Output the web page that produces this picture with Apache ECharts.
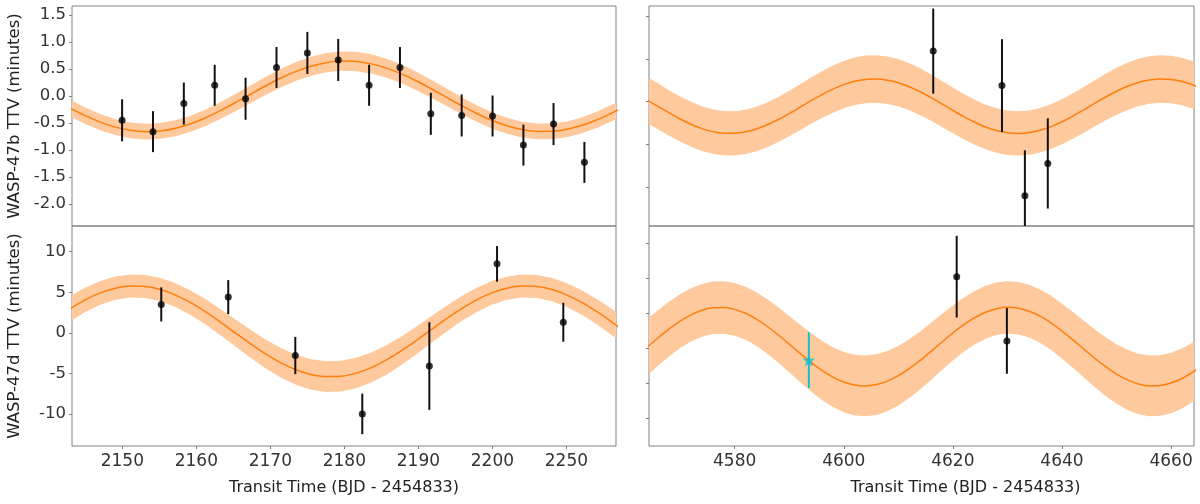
<!DOCTYPE html>
<html>
<head>
<meta charset="utf-8">
<script src="https://cdn.jsdelivr.net/npm/echarts@6/dist/echarts.min.js"></script>
<style>
  html, body { margin: 0; padding: 0; background: #fff; }
  #chart { width: 1200px; height: 504px; }
</style>
</head>
<body>
<div id="chart"></div>
<script>
// WASP-47b, first window (measured TTVs)
const bX = [2149.97, 2154.14, 2158.31, 2162.48, 2166.65, 2170.83, 2175.0, 2179.17, 2183.34, 2187.51, 2191.68, 2195.85, 2200.02, 2204.19, 2208.26, 2212.43];
const bY = [-0.45, -0.66, -0.14, 0.20, -0.05, 0.53, 0.80, 0.67, 0.20, 0.53, -0.33, -0.36, -0.37, -0.91, -0.52, -1.23];
const bErr = [0.39, 0.38, 0.39, 0.38, 0.39, 0.38, 0.39, 0.39, 0.38, 0.38, 0.39, 0.39, 0.38, 0.38, 0.39, 0.38];

// WASP-47d, first window
const dX = [2155.26, 2164.31, 2173.37, 2182.42, 2191.48, 2200.63, 2209.58];
const dY = [3.5, 4.4, -2.8, -10.0, -4.1, 8.5, 1.3];
const dErr = [2.1, 2.1, 2.3, 2.5, 5.4, 2.2, 2.4];

// later window
const bLateX = [4616.4, 4629.0, 4633.2, 4637.4];
const bLateY = [1.19, 0.38, -2.21, -1.45];
const bLateErr = [1.0, 1.09, 1.07, 1.06];

const dLateX = [4620.7, 4629.9];
const dLateY = [1.05, -0.79];
const dLateErr = [1.17, 0.94];

const starX = [4593.6];
const starY = [-1.34];
const starErr = [0.80];

// model curves (median) and half width of the shaded band
const modelLeftX = [2142.95, 2144.99, 2147.02, 2149.06, 2151.09, 2153.12, 2155.16, 2157.19, 2159.23, 2161.26, 2163.30, 2165.33, 2167.37, 2169.40, 2171.43, 2173.47, 2175.50, 2177.54, 2179.57, 2181.61, 2183.64, 2185.68, 2187.71, 2189.75, 2191.78, 2193.81, 2195.85, 2197.88, 2199.92, 2201.95, 2203.99, 2206.02, 2208.06, 2210.09, 2212.13, 2214.16, 2216.20, 2217.21];
const modelB = [-0.224, -0.364, -0.483, -0.576, -0.635, -0.660, -0.647, -0.597, -0.514, -0.402, -0.267, -0.118, 0.038, 0.191, 0.334, 0.457, 0.553, 0.619, 0.648, 0.641, 0.597, 0.518, 0.411, 0.279, 0.131, -0.024, -0.179, -0.323, -0.450, -0.551, -0.621, -0.656, -0.654, -0.616, -0.542, -0.439, -0.311, -0.239];
const modelBErr = [0.157, 0.153, 0.150, 0.147, 0.146, 0.145, 0.145, 0.147, 0.149, 0.152, 0.155, 0.159, 0.164, 0.168, 0.172, 0.175, 0.177, 0.179, 0.180, 0.180, 0.179, 0.176, 0.174, 0.170, 0.166, 0.162, 0.158, 0.154, 0.151, 0.148, 0.146, 0.145, 0.145, 0.146, 0.148, 0.151, 0.154, 0.156];
const modelD = [2.99, 4.07, 4.92, 5.50, 5.76, 5.71, 5.33, 4.65, 3.71, 2.57, 1.29, -0.06, -1.39, -2.63, -3.71, -4.56, -5.14, -5.40, -5.35, -4.97, -4.29, -3.35, -2.21, -0.93, 0.42, 1.75, 2.99, 4.07, 4.92, 5.49, 5.76, 5.71, 5.33, 4.65, 3.71, 2.57, 1.29, 0.62];
const modelDErr = [1.54, 1.49, 1.46, 1.43, 1.42, 1.42, 1.44, 1.47, 1.51, 1.56, 1.61, 1.67, 1.73, 1.78, 1.83, 1.86, 1.89, 1.90, 1.90, 1.88, 1.85, 1.81, 1.76, 1.71, 1.65, 1.59, 1.54, 1.49, 1.46, 1.43, 1.42, 1.42, 1.44, 1.47, 1.51, 1.56, 1.61, 1.64];

const modelRightX = [4564, 4566, 4568, 4570, 4572, 4574, 4576, 4578, 4580, 4582, 4584, 4586, 4588, 4590, 4592, 4594, 4596, 4598, 4600, 4602, 4604, 4606, 4608, 4610, 4612, 4614, 4616, 4618, 4620, 4622, 4624, 4626, 4628, 4630, 4632, 4634, 4636, 4638, 4640, 4642, 4644, 4646, 4648, 4650, 4652, 4654, 4656, 4658, 4660, 4662, 4664, 4665];
const modelBLate = [0.038, -0.113, -0.263, -0.405, -0.530, -0.631, -0.702, -0.739, -0.741, -0.707, -0.639, -0.541, -0.418, -0.278, -0.128, 0.024, 0.168, 0.297, 0.403, 0.480, 0.525, 0.534, 0.507, 0.445, 0.353, 0.235, 0.097, -0.052, -0.204, -0.350, -0.482, -0.594, -0.677, -0.729, -0.745, -0.725, -0.670, -0.584, -0.470, -0.336, -0.189, -0.037, 0.111, 0.247, 0.363, 0.453, 0.511, 0.535, 0.522, 0.474, 0.394, 0.342];
const modelBLateErr = [0.544, 0.540, 0.535, 0.531, 0.527, 0.524, 0.521, 0.520, 0.520, 0.521, 0.523, 0.526, 0.530, 0.535, 0.539, 0.544, 0.549, 0.553, 0.556, 0.558, 0.560, 0.560, 0.559, 0.557, 0.554, 0.551, 0.546, 0.542, 0.537, 0.532, 0.528, 0.525, 0.522, 0.521, 0.520, 0.521, 0.522, 0.525, 0.529, 0.533, 0.537, 0.542, 0.547, 0.551, 0.555, 0.557, 0.559, 0.560, 0.560, 0.558, 0.556, 0.554];
const modelDLate = [-0.963, -0.699, -0.448, -0.226, -0.045, 0.085, 0.157, 0.166, 0.113, 0.000, -0.167, -0.378, -0.621, -0.883, -1.149, -1.404, -1.634, -1.826, -1.969, -2.055, -2.080, -2.041, -1.942, -1.787, -1.585, -1.349, -1.090, -0.823, -0.564, -0.327, -0.125, 0.030, 0.130, 0.170, 0.146, 0.060, -0.082, -0.274, -0.510, -0.762, -1.024, -1.286, -1.529, -1.740, -1.907, -2.022, -2.076, -2.067, -1.996, -1.867, -1.685, -1.575];
const modelDLateErr = [0.810, 0.796, 0.783, 0.771, 0.761, 0.755, 0.751, 0.750, 0.753, 0.759, 0.768, 0.779, 0.792, 0.806, 0.820, 0.834, 0.846, 0.856, 0.864, 0.869, 0.870, 0.868, 0.863, 0.854, 0.844, 0.831, 0.817, 0.803, 0.789, 0.777, 0.766, 0.757, 0.752, 0.750, 0.751, 0.756, 0.763, 0.774, 0.786, 0.800, 0.814, 0.828, 0.841, 0.852, 0.861, 0.867, 0.870, 0.869, 0.866, 0.859, 0.849, 0.843];

// tick positions and labels
const ticksLeftX = [2150, 2160, 2170, 2180, 2190, 2200, 2210];
const tickLabelsLeftX = ["2150", "2160", "2170", "2180", "2190", "2200", "2250"];
const ticksB = [-2.0, -1.5, -1.0, -0.5, 0.0, 0.5, 1.0, 1.5];
const ticksD = [-10, -5, 0, 5, 10];
const ticksRightX = [4580, 4600, 4620, 4640, 4660];
const ticksBLate = [-2, -1, 0, 1, 2];
const ticksDLate = [-3, -2, -1, 0, 1, 2];

const FONT = "DejaVu Sans";
const ORANGE = "#ff7f0e";
const BAND = "#fec99c";
const CYAN = "#17becf";
const FRAME = "#808080";

const chart = echarts.init(document.getElementById("chart"));

const zip = (xs, ys, es) => xs.map((x, i) => (es ? [x, ys[i], es[i]] : [x, ys[i]]));

const xAxisOf = (gi, min, max, ticks, labels, showLabels) => ({
    type: "value",
    gridIndex: gi,
    min: min,
    max: max,
    axisLine: { show: false, onZero: false },
    splitLine: { show: false },
    axisTick: { show: showLabels, customValues: ticks, length: 3, lineStyle: { color: FRAME } },
    axisLabel: {
        show: showLabels,
        customValues: ticks,
        margin: 7,
        fontFamily: FONT,
        fontSize: 17,
        color: "#333",
        formatter: (v) => labels[ticks.indexOf(v)] ?? String(v),
    },
});

const yAxisOf = (gi, min, max, ticks, showLabels, digits) => ({
    type: "value",
    gridIndex: gi,
    min: min,
    max: max,
    axisLine: { show: false, onZero: false },
    splitLine: { show: false },
    axisTick: { show: true, customValues: ticks, length: 3, lineStyle: { color: FRAME } },
    axisLabel: {
        show: showLabels,
        customValues: ticks,
        margin: 6,
        fontFamily: FONT,
        fontSize: 16.5,
        color: "#333",
        formatter: (v) => v.toFixed(digits),
    },
});

const errorBars = (gi, data, color) => ({
    type: "custom",
    xAxisIndex: gi,
    yAxisIndex: gi,
    silent: true,
    z: 5,
    data: data,
    renderItem: (params, api) => {
        const x = api.value(0);
        const y = api.value(1);
        const e = api.value(2);
        const top = api.coord([x, y + e]);
        const bot = api.coord([x, y - e]);
        const cs = params.coordSys;
        const clamp = (v) => Math.max(cs.y, Math.min(cs.y + cs.height, v));
        return {
            type: "line",
            shape: { x1: top[0], y1: clamp(top[1]), x2: bot[0], y2: clamp(bot[1]) },
            style: { stroke: color, lineWidth: 2 },
        };
    },
});

const points = (gi, data, color, symbol, size) => ({
    type: "scatter",
    xAxisIndex: gi,
    yAxisIndex: gi,
    symbol: symbol,
    symbolSize: size,
    itemStyle: { color: color },
    z: 6,
    data: data,
});

// shaded band: one polygon (upper edge forward, lower edge back) built from the samples
const bandSeries = (gi, xs, mid, err) => {
    const data = xs.map((x, i) => [x, mid[i] - err[i], mid[i] + err[i]]);
    return {
        type: "custom",
        xAxisIndex: gi,
        yAxisIndex: gi,
        silent: true,
        clip: true,
        z: 1,
        data: data,
        renderItem: (params, api) => {
            if (params.dataIndex !== 0) {
                return null;
            }
            const upper = data.map((d) => api.coord([d[0], d[2]]));
            const lower = data.map((d) => api.coord([d[0], d[1]])).reverse();
            return {
                type: "polygon",
                shape: { points: upper.concat(lower) },
                style: { fill: BAND, stroke: null },
            };
        },
    };
};

const modelLine = (gi, xs, mid) => ({
    type: "line",
    xAxisIndex: gi,
    yAxisIndex: gi,
    smooth: 0.3,
    showSymbol: false,
    silent: true,
    lineStyle: { color: ORANGE, width: 1.5 },
    data: zip(xs, mid),
    z: 2,
});

const STAR = "path://M50,0 L61.8,35.1 L97.6,34.5 L69.1,56.7 L79.4,90.5 L50,70 L20.6,90.5 L30.9,56.7 L2.4,34.5 L38.2,35.1 Z";

const gridBase = { show: true, borderColor: FRAME, borderWidth: 1, backgroundColor: "transparent", containLabel: false };

chart.setOption({
    animation: false,
    grid: [
        { ...gridBase, left: 72, top: 6, width: 544, height: 220 },
        { ...gridBase, left: 72, top: 226, width: 544, height: 220 },
        { ...gridBase, left: 649, top: 6, width: 545, height: 220 },
        { ...gridBase, left: 649, top: 226, width: 545, height: 220 },
    ],
    xAxis: [
        xAxisOf(0, 2143.2, 2216.7, ticksLeftX, tickLabelsLeftX, false),
        {
            ...xAxisOf(1, 2143.2, 2216.7, ticksLeftX, tickLabelsLeftX, true),
            name: "Transit Time (BJD - 2454833)",
            nameLocation: "middle",
            nameGap: 34,
            nameTextStyle: { fontFamily: FONT, fontSize: 16, color: "#222" },
        },
        xAxisOf(2, 4564.3, 4664.2, ticksRightX, ticksRightX.map(String), false),
        {
            ...xAxisOf(3, 4564.3, 4664.2, ticksRightX, ticksRightX.map(String), true),
            name: "Transit Time (BJD - 2454833)",
            nameLocation: "middle",
            nameGap: 34,
            nameTextStyle: { fontFamily: FONT, fontSize: 16, color: "#222", padding: [0, 0, 0, 88] },
        },
    ],
    yAxis: [
        {
            ...yAxisOf(0, -2.41, 1.67, ticksB, true, 1),
            name: "WASP-47b TTV (minutes)",
            nameLocation: "middle",
            nameGap: 49,
            nameTextStyle: { fontFamily: FONT, fontSize: 16.5, color: "#222" },
        },
        {
            ...yAxisOf(1, -13.96, 13.17, ticksD, true, 0),
            name: "WASP-47d TTV (minutes)",
            nameLocation: "middle",
            nameGap: 49,
            nameTextStyle: { fontFamily: FONT, fontSize: 16.5, color: "#222" },
        },
        yAxisOf(2, -2.92, 2.25, ticksBLate, false, 0),
        yAxisOf(3, -3.80, 2.50, ticksDLate, false, 0),
    ],
    series: [
        bandSeries(0, modelLeftX, modelB, modelBErr),
        bandSeries(1, modelLeftX, modelD, modelDErr),
        bandSeries(2, modelRightX, modelBLate, modelBLateErr),
        bandSeries(3, modelRightX, modelDLate, modelDLateErr),
        modelLine(0, modelLeftX, modelB),
        modelLine(1, modelLeftX, modelD),
        modelLine(2, modelRightX, modelBLate),
        modelLine(3, modelRightX, modelDLate),
        errorBars(0, zip(bX, bY, bErr), "#111"),
        errorBars(1, zip(dX, dY, dErr), "#111"),
        errorBars(2, zip(bLateX, bLateY, bLateErr), "#111"),
        errorBars(3, zip(dLateX, dLateY, dLateErr), "#111"),
        errorBars(3, zip(starX, starY, starErr), CYAN),
        points(0, zip(bX, bY), "#000", "circle", 7),
        points(1, zip(dX, dY), "#000", "circle", 7),
        points(2, zip(bLateX, bLateY), "#000", "circle", 7),
        points(3, zip(dLateX, dLateY), "#000", "circle", 7),
        points(3, zip(starX, starY), CYAN, STAR, 13),
    ],
});
</script>
</body>
</html>
